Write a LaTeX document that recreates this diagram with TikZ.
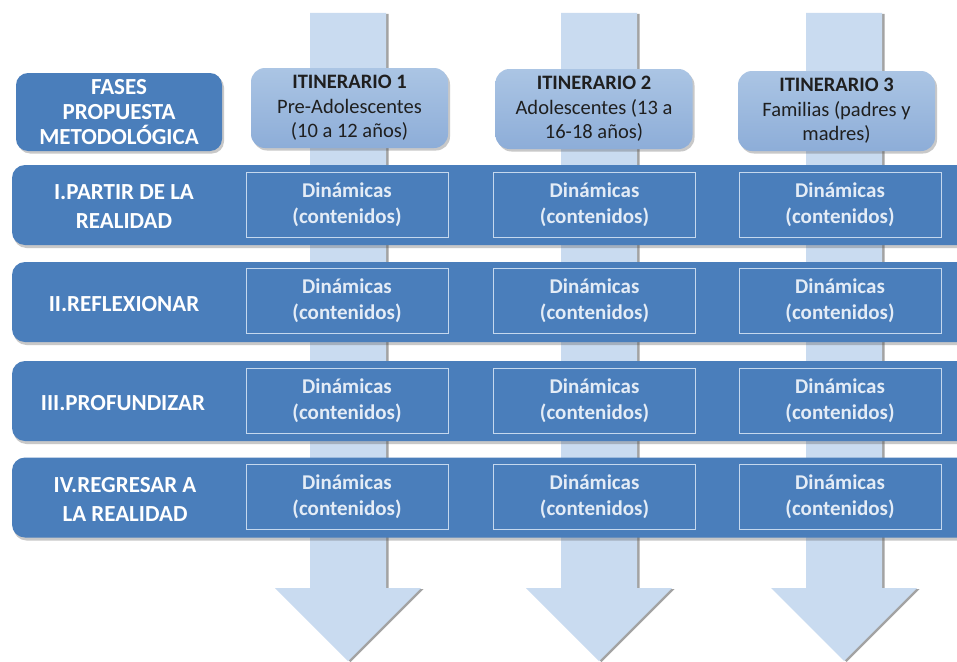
\documentclass[tikz,border=0pt]{standalone}
\usepackage{fontspec}
\setmainfont{Carlito}
\usetikzlibrary{shadows}
\definecolor{bandblue}{HTML}{4A7EBB}
\definecolor{itlight}{HTML}{ABC5E4}
\definecolor{itdark}{HTML}{8DADD8}
\definecolor{arrowblue}{HTML}{C9DBF0}
\definecolor{dinborder}{HTML}{C5D8EE}
\definecolor{dintext}{HTML}{E4ECF6}
\tikzset{
  bigarrow/.style={fill=arrowblue, draw=none,
    drop shadow={shadow xshift=2.5pt, shadow yshift=-1pt, opacity=0.6, fill=black!60}},
  bandbox/.style={draw=none, fill=bandblue, rounded corners=13pt,
    minimum width=963pt, minimum height=80pt, inner sep=0pt,
    drop shadow={shadow xshift=1.5pt, shadow yshift=-3pt, opacity=0.3, fill=black!70}},
  fasesbox/.style={draw=none, fill=bandblue, rounded corners=12pt,
    minimum width=206pt, minimum height=78pt, inner sep=0pt, align=center,
    text=white, font=\fontsize{23}{25}\selectfont\bfseries,
    drop shadow={shadow xshift=2pt, shadow yshift=-2.5pt, opacity=0.3, fill=black!70}},
  itbox/.style={draw=none, top color=itlight, bottom color=itdark, rounded corners=14pt,
    minimum width=197pt, minimum height=80pt, inner sep=0pt, align=center,
    text=black!88, font=\fontsize{20.5}{24.5}\selectfont,
    drop shadow={shadow xshift=2pt, shadow yshift=-2.5pt, opacity=0.3, fill=black!70}},
  rowlabel/.style={align=center, text=white, inner sep=0pt,
    font=\fontsize{23}{29}\selectfont\bfseries},
  dinbox/.style={draw=dinborder, line width=1pt, fill=bandblue,
    minimum width=202pt, minimum height=65pt, inner sep=0pt, align=center,
    text=dintext, font=\fontsize{21}{26}\selectfont\bfseries},
}
\begin{document}
\begin{tikzpicture}[x=1pt,y=-1pt]
\useasboundingbox (0,0) rectangle (957,661);
\fill[white] (0,0) rectangle (957,661);
\clip (0,0) rectangle (957,661);
% arrows in the background
\foreach \c in {348,599,844}{
  \path[bigarrow] (\c-38,13) -- (\c+38,13) -- (\c+38,588) -- (\c+73,588)
     -- (\c,661) -- (\c-73,588) -- (\c-38,588) -- cycle;
}
% header boxes
\node[fasesbox] (fases) at (119,112) {FASES\\PROPUESTA\\METODOLÓGICA};
\node[itbox] (it1) at (349.5,108) {\textbf{ITINERARIO 1}\\Pre-Adolescentes\\(10 a 12 años)};
\node[itbox] (it2) at (594,109) {\textbf{ITINERARIO 2}\\Adolescentes (13 a\\16-18 años)};
\node[itbox] (it3) at (836.5,111) {\textbf{ITINERARIO 3}\\Familias (padres y\\madres)};
% rows
\node[bandbox] (row1) at (493.5,205) {};
\node[bandbox] (row2) at (493.5,302) {};
\node[bandbox] (row3) at (493.5,401) {};
\node[bandbox] (row4) at (493.5,497.5) {};
\node[rowlabel] (lab1) at (124,207) {I.PARTIR DE LA\\REALIDAD};
\node[rowlabel] (lab2) at (124,304) {II.REFLEXIONAR};
\node[rowlabel] (lab3) at (123,403) {III.PROFUNDIZAR};
\node[rowlabel] (lab4) at (125,499) {IV.REGRESAR A\\LA REALIDAD};
% dinamicas boxes
\foreach \y/\r in {204.5/1,300.5/2,401/3,497/4}{
  \node[dinbox] (d1\r) at (347,\y) {Dinámicas\\(contenidos)};
  \node[dinbox] (d2\r) at (594.5,\y) {Dinámicas\\(contenidos)};
  \node[dinbox] (d3\r) at (840,\y) {Dinámicas\\(contenidos)};
}
\end{tikzpicture}
\end{document}
